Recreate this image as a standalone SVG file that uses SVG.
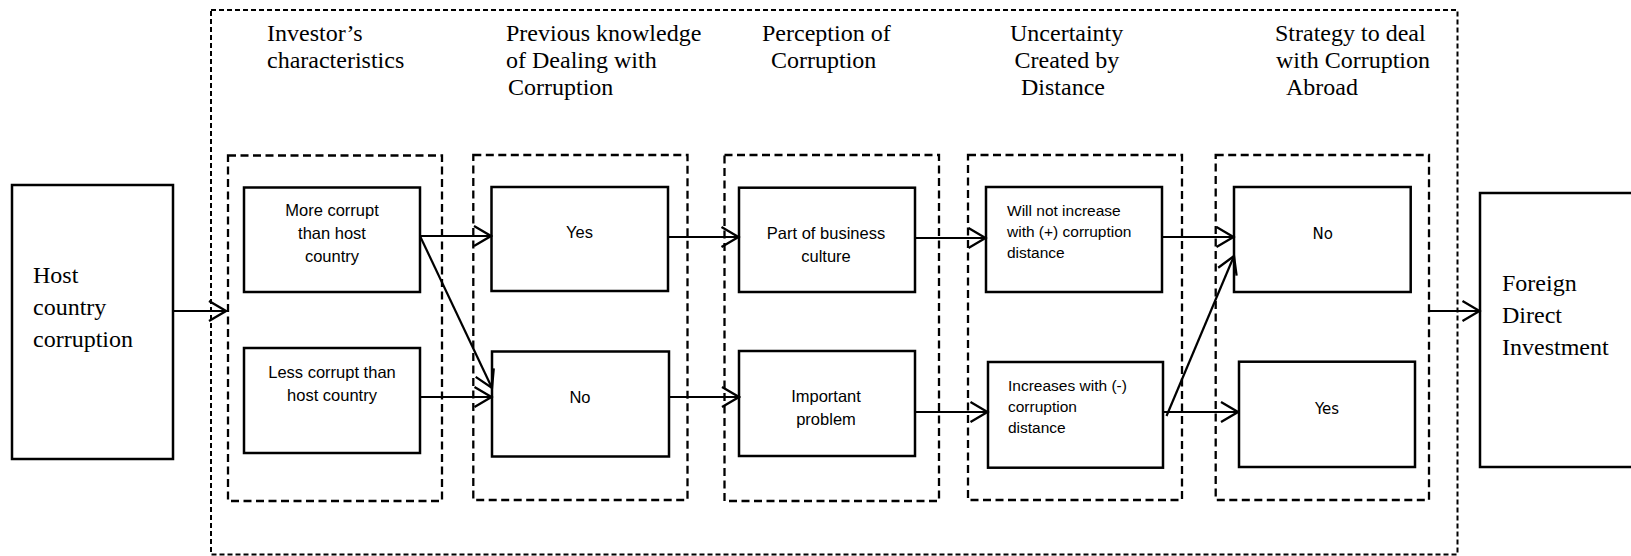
<svg xmlns="http://www.w3.org/2000/svg" width="1631" height="556" viewBox="0 0 1631 556">
<style>
.box{fill:#fff;stroke:#000;stroke-width:2.5}
.grp{fill:none;stroke:#000;stroke-width:2.3;stroke-dasharray:8 4.5}
.outer{fill:none;stroke:#000;stroke-width:2;stroke-dasharray:5 3}
.ttl{font-family:"Liberation Serif","Times New Roman",serif;font-size:24px;fill:#000}
.lbl{font-family:"Liberation Sans",Arial,sans-serif;font-size:16.5px;fill:#000;text-anchor:middle}
.lbl2{font-family:"Liberation Sans",Arial,sans-serif;font-size:15.5px;fill:#000}
.vd{font-family:"DejaVu Sans",Verdana,sans-serif;font-size:15px;fill:#000;text-anchor:middle}
.con{fill:none;stroke:#000;stroke-width:2.2;marker-end:url(#arr)}
</style>
<defs>
<marker id="arr" markerUnits="userSpaceOnUse" viewBox="-20 -12 22 24" refX="0" refY="0" markerWidth="22" markerHeight="24" orient="auto">
<path d="M-17,-10 L0,0 L-17,10" fill="none" stroke="#000" stroke-width="2.3"/>
</marker>
</defs>
<rect width="1631" height="556" fill="#fff"/>

<g id="frame">
<rect class="outer" x="211" y="10" width="1246.5" height="544.5"/>
</g>

<g id="titles">
<text class="ttl" x="267" y="41">Investor’s</text>
<text class="ttl" x="267" y="68">characteristics</text>
<text class="ttl" x="506" y="41">Previous knowledge</text>
<text class="ttl" x="506" y="68">of Dealing with</text>
<text class="ttl" x="508" y="95">Corruption</text>
<text class="ttl" x="762" y="41">Perception of</text>
<text class="ttl" x="771" y="68">Corruption</text>
<text class="ttl" x="1010" y="41">Uncertainty</text>
<text class="ttl" x="1014.5" y="68">Created by</text>
<text class="ttl" x="1021" y="95">Distance</text>
<text class="ttl" x="1275" y="41">Strategy to deal</text>
<text class="ttl" x="1276" y="68">with Corruption</text>
<text class="ttl" x="1286" y="95">Abroad</text>
</g>

<g id="host">
<rect class="box" x="12" y="185" width="161" height="274"/>
<text class="ttl" x="33" y="283">Host</text>
<text class="ttl" x="33" y="315">country</text>
<text class="ttl" x="33" y="347">corruption</text>
</g>

<g id="group-investor">
<rect class="grp" x="228" y="155.5" width="214" height="345.5"/>
</g>
<g id="group-knowledge">
<rect class="grp" x="473.3" y="155" width="214.2" height="345"/>
</g>
<g id="group-perception">
<rect class="grp" x="724.5" y="155" width="214.5" height="346"/>
</g>
<g id="group-uncertainty">
<rect class="grp" x="968" y="155" width="214" height="345"/>
</g>
<g id="group-strategy">
<rect class="grp" x="1215.7" y="155" width="213.3" height="345"/>
</g>

<g id="more-corrupt">
<rect class="box" x="244" y="187.5" width="176" height="104.5"/>
<text class="lbl" x="332" y="216">More corrupt</text>
<text class="lbl" x="332" y="239">than host</text>
<text class="lbl" x="332" y="262">country</text>
</g>
<g id="less-corrupt">
<rect class="box" x="244" y="348" width="176" height="105"/>
<text class="lbl" x="332" y="377.5">Less corrupt than</text>
<text class="lbl" x="332" y="400.5">host country</text>
</g>

<g id="knowledge-yes">
<rect class="box" x="491.5" y="187" width="176.5" height="104"/>
<text class="lbl" x="579.5" y="238">Yes</text>
</g>
<g id="knowledge-no">
<rect class="box" x="492" y="351.5" width="177" height="105"/>
<text class="lbl" x="580" y="403">No</text>
</g>

<g id="business-culture">
<rect class="box" x="739" y="187.7" width="176" height="104.3"/>
<text class="lbl" x="826" y="239">Part of business</text>
<text class="lbl" x="826" y="262">culture</text>
</g>
<g id="important-problem">
<rect class="box" x="739" y="351" width="176" height="105"/>
<text class="lbl" x="826" y="402">Important</text>
<text class="lbl" x="826" y="425">problem</text>
</g>

<g id="will-not-increase">
<rect class="box" x="986" y="187" width="176" height="105"/>
<text class="lbl2" x="1007" y="216">Will not increase</text>
<text class="lbl2" x="1007" y="237">with (+) corruption</text>
<text class="lbl2" x="1007" y="258">distance</text>
</g>
<g id="increases">
<rect class="box" x="988" y="362" width="175" height="105.7"/>
<text class="lbl2" x="1008" y="391">Increases with (-)</text>
<text class="lbl2" x="1008" y="412">corruption</text>
<text class="lbl2" x="1008" y="433">distance</text>
</g>

<g id="strategy-no">
<rect class="box" x="1234" y="187" width="176.7" height="105"/>
<text class="vd" x="1322.7" y="239">No</text>
</g>
<g id="strategy-yes">
<rect class="box" x="1239" y="361.7" width="176" height="105.3"/>
<text class="vd" x="1327" y="414">Yes</text>
</g>

<g id="fdi">
<rect class="box" x="1480" y="193" width="160" height="274"/>
<text class="ttl" x="1502" y="291">Foreign</text>
<text class="ttl" x="1502" y="323">Direct</text>
<text class="ttl" x="1502" y="355">Investment</text>
</g>

<g id="connectors">
<line class="con" x1="174" y1="311" x2="226" y2="311"/>
<line class="con" x1="420" y1="236" x2="491" y2="236"/>
<line class="con" x1="420" y1="236" x2="492" y2="388"/>
<line class="con" x1="420" y1="397" x2="491.5" y2="397"/>
<line class="con" x1="668" y1="237" x2="738.5" y2="237"/>
<line class="con" x1="669" y1="397" x2="739" y2="397"/>
<line class="con" x1="915" y1="238" x2="985.5" y2="238"/>
<line class="con" x1="915" y1="412" x2="987.5" y2="412"/>
<line class="con" x1="1162" y1="237" x2="1233.5" y2="237"/>
<line class="con" x1="1166.5" y1="416" x2="1234" y2="256"/>
<line class="con" x1="1163" y1="412" x2="1238" y2="412"/>
<line class="con" x1="1429" y1="311" x2="1479.5" y2="311"/>
</g>
</svg>
